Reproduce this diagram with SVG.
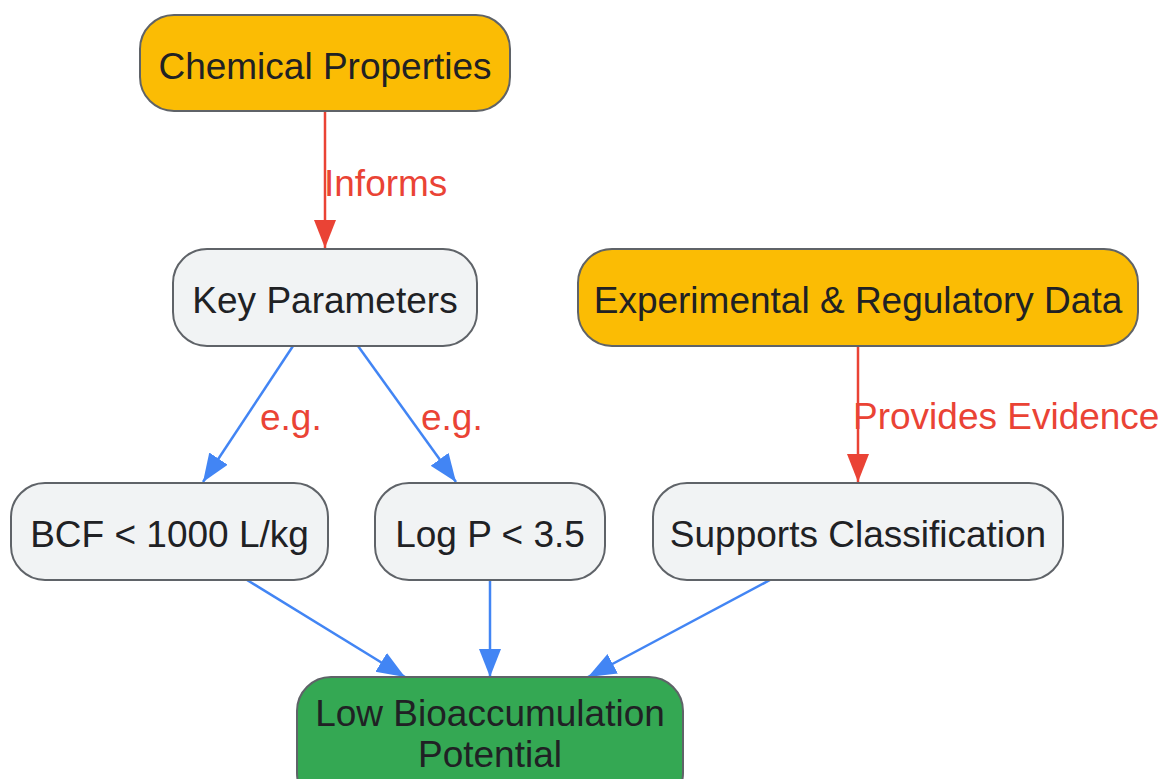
<svg xmlns="http://www.w3.org/2000/svg" width="1164" height="779" viewBox="0 0 1164 779">
<style>
  .node rect { stroke: #5f6368; stroke-width: 2; }
  .yellow { fill: #fbbc04; }
  .light { fill: #f1f3f4; }
  .green { fill: #34a853; }
  .ntext { font-family: "Liberation Sans", Arial, sans-serif; font-size: 37px; fill: #202124; text-anchor: middle; }
  .elabel { font-family: "Liberation Sans", Arial, sans-serif; font-size: 37px; fill: #ea4335; }
  .blue { stroke: #4285f4; stroke-width: 2.5; fill: none; marker-end: url(#arrBlue); }
  .red { stroke: #ea4335; stroke-width: 2.5; fill: none; marker-end: url(#arrRed); }
</style>
<defs>
  <marker id="arrBlue" markerUnits="userSpaceOnUse" markerWidth="30" markerHeight="24" refX="28" refY="11" orient="auto" viewBox="0 0 30 24">
    <path d="M0,0 L28,11 L0,22 z" fill="#4285f4"/>
  </marker>
  <marker id="arrRed" markerUnits="userSpaceOnUse" markerWidth="30" markerHeight="24" refX="28" refY="11" orient="auto" viewBox="0 0 30 24">
    <path d="M0,0 L28,11 L0,22 z" fill="#ea4335"/>
  </marker>
</defs>
<rect width="1164" height="779" fill="#ffffff"/>
<g id="connectors">
  <line class="red" x1="325" y1="111" x2="325" y2="248"/>
  <line class="blue" x1="293" y1="346" x2="203" y2="482"/>
  <line class="blue" x1="358" y1="346" x2="456" y2="482"/>
  <line class="red" x1="858" y1="346" x2="858" y2="482"/>
  <line class="blue" x1="247" y1="580" x2="405" y2="677"/>
  <line class="blue" x1="490" y1="580" x2="490" y2="677"/>
  <line class="blue" x1="770" y1="580" x2="588" y2="677"/>
  <text class="elabel" x="324" y="196">Informs</text>
  <text class="elabel" x="260" y="430">e.g.</text>
  <text class="elabel" x="421" y="430">e.g.</text>
  <text class="elabel" x="853" y="429">Provides Evidence</text>
</g>
<g id="chem" class="node">
  <rect class="yellow" x="140" y="15" width="370" height="96" rx="34"/>
  <text class="ntext" x="325" y="78.5">Chemical Properties</text>
</g>
<g id="key" class="node">
  <rect class="light" x="173" y="249" width="304" height="97" rx="34"/>
  <text class="ntext" x="325" y="312.5">Key Parameters</text>
</g>
<g id="exp" class="node">
  <rect class="yellow" x="578" y="249" width="560" height="97" rx="34"/>
  <text class="ntext" x="858" y="312.5">Experimental &amp; Regulatory Data</text>
</g>
<g id="bcf" class="node">
  <rect class="light" x="11" y="483" width="317" height="97" rx="34"/>
  <text class="ntext" x="169.5" y="546.5">BCF &lt; 1000 L/kg</text>
</g>
<g id="logp" class="node">
  <rect class="light" x="375" y="483" width="230" height="97" rx="34"/>
  <text class="ntext" x="490" y="546.5">Log P &lt; 3.5</text>
</g>
<g id="supports" class="node">
  <rect class="light" x="653" y="483" width="410" height="97" rx="34"/>
  <text class="ntext" x="858" y="546.5">Supports Classification</text>
</g>
<g id="low" class="node">
  <rect class="green" x="297" y="677" width="386" height="130" rx="34"/>
  <text class="ntext" x="490" y="726">Low Bioaccumulation</text>
  <text class="ntext" x="490" y="767">Potential</text>
</g>
</svg>
